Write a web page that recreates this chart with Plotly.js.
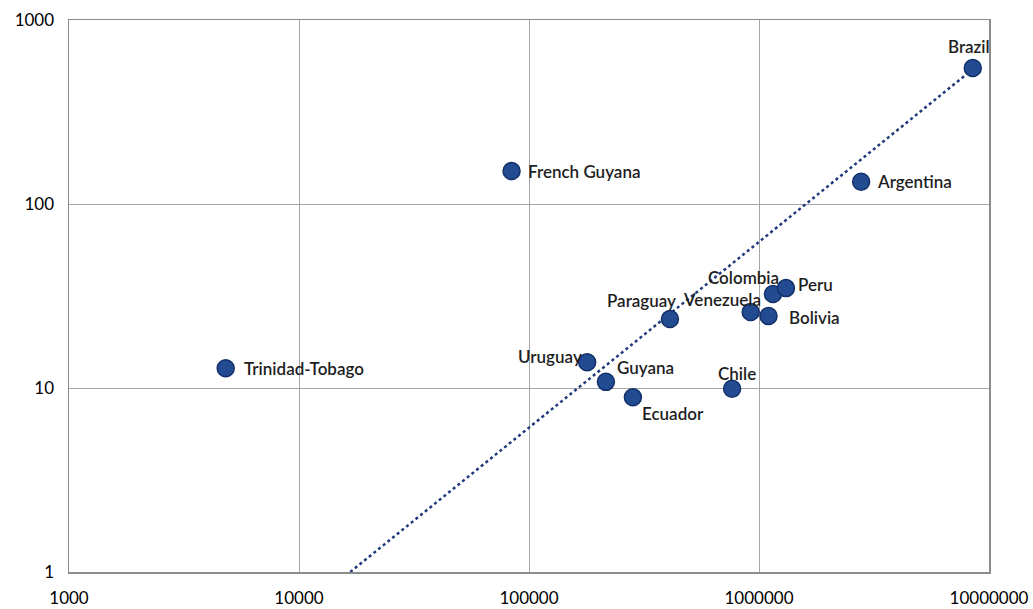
<!DOCTYPE html>
<html>
<head>
<meta charset="utf-8">
<script src="https://cdn.plot.ly/plotly-3.0.1.min.js"></script>
<style>html,body{margin:0;padding:0;background:#fff;}#chart{width:1033px;height:609px;}</style>
</head>
<body>
<div id="chart"></div>
<script>
const countries = ["Brazil","Argentina","French Guyana","Trinidad-Tobago","Paraguay","Venezuela","Bolivia","Colombia","Peru","Uruguay","Guyana","Ecuador","Chile"];
const xValues = [8500000, 2780000, 84000, 4800, 410000, 920000, 1100000, 1150000, 1310000, 179000, 216000, 283000, 764000];
const yValues = [548, 132, 151, 12.8, 23.7, 25.9, 24.6, 32.4, 34.9, 13.8, 10.8, 8.9, 9.9];
const trendX = [16700, 8500000];
const trendY = [1, 540];
const xTicks = [1000, 10000, 100000, 1000000, 10000000];
const xTickText = ["1000","10000","100000","1000000","10000000"];
const yTicks = [1, 10, 100, 1000];
const yTickText = ["1","10","100","1000"];

// label placement: [xanchor, xshift(px), yshift(px, up)]
const labelPlacement = [
  ["center", -4, 22],
  ["left", 14, 0],
  ["left", 14, 0],
  ["left", 16, 0],
  ["right", 8, 19],
  ["right", 12, 12],
  ["left", 18, -1],
  ["right", 8, 17],
  ["left", 10, 4],
  ["right", -3, 6],
  ["left", 9, 14],
  ["left", 7, -16],
  ["center", 5, 15]
];

const trend = {
  x: trendX, y: trendY, mode: "lines", type: "scatter",
  line: {color: "#1f3a7a", width: 2.5, dash: "dot"},
  hoverinfo: "skip", showlegend: false
};
const pts = {
  x: xValues, y: yValues, mode: "markers", type: "scatter",
  marker: {size: 17, color: "#234b92", line: {color: "#12306a", width: 1.5}},
  showlegend: false, cliponaxis: false
};
const annotations = countries.map((name, i) => ({
  x: Math.log10(xValues[i]), y: Math.log10(yValues[i]), xref: "x", yref: "y",
  text: name, showarrow: false,
  xanchor: labelPlacement[i][0], yanchor: "middle",
  xshift: labelPlacement[i][1], yshift: labelPlacement[i][2],
  font: {family: "Lato, Open Sans, sans-serif", size: 17, color: "#1e1e1e", weight: 600}
}));
const layout = {
  width: 1033, height: 609,
  margin: {l: 69, r: 44, t: 20, b: 37},
  paper_bgcolor: "#fff", plot_bgcolor: "#fff",
  font: {family: "Lato, Open Sans, sans-serif", size: 17, color: "#000"},
  annotations: annotations,
  xaxis: {
    type: "log", range: [3, 7], tickvals: xTicks, ticktext: xTickText,
    showgrid: true, gridcolor: "#a6a6a6", gridwidth: 1,
    showline: true, linecolor: "#8c8c8c", linewidth: 1.5, mirror: true,
    zeroline: false, ticks: "", ticklabelstandoff: 10,
    tickfont: {size: 17, color: "#000"}
  },
  yaxis: {
    type: "log", range: [0, 3], tickvals: yTicks, ticktext: yTickText,
    showgrid: true, gridcolor: "#a6a6a6", gridwidth: 1,
    showline: true, linecolor: "#8c8c8c", linewidth: 1.5, mirror: true,
    zeroline: false, ticks: "", ticklabelstandoff: 10,
    tickfont: {size: 17, color: "#000"}
  }
};
Plotly.newPlot("chart", [trend, pts], layout, {displayModeBar: false, staticPlot: true});
</script>
</body>
</html>
